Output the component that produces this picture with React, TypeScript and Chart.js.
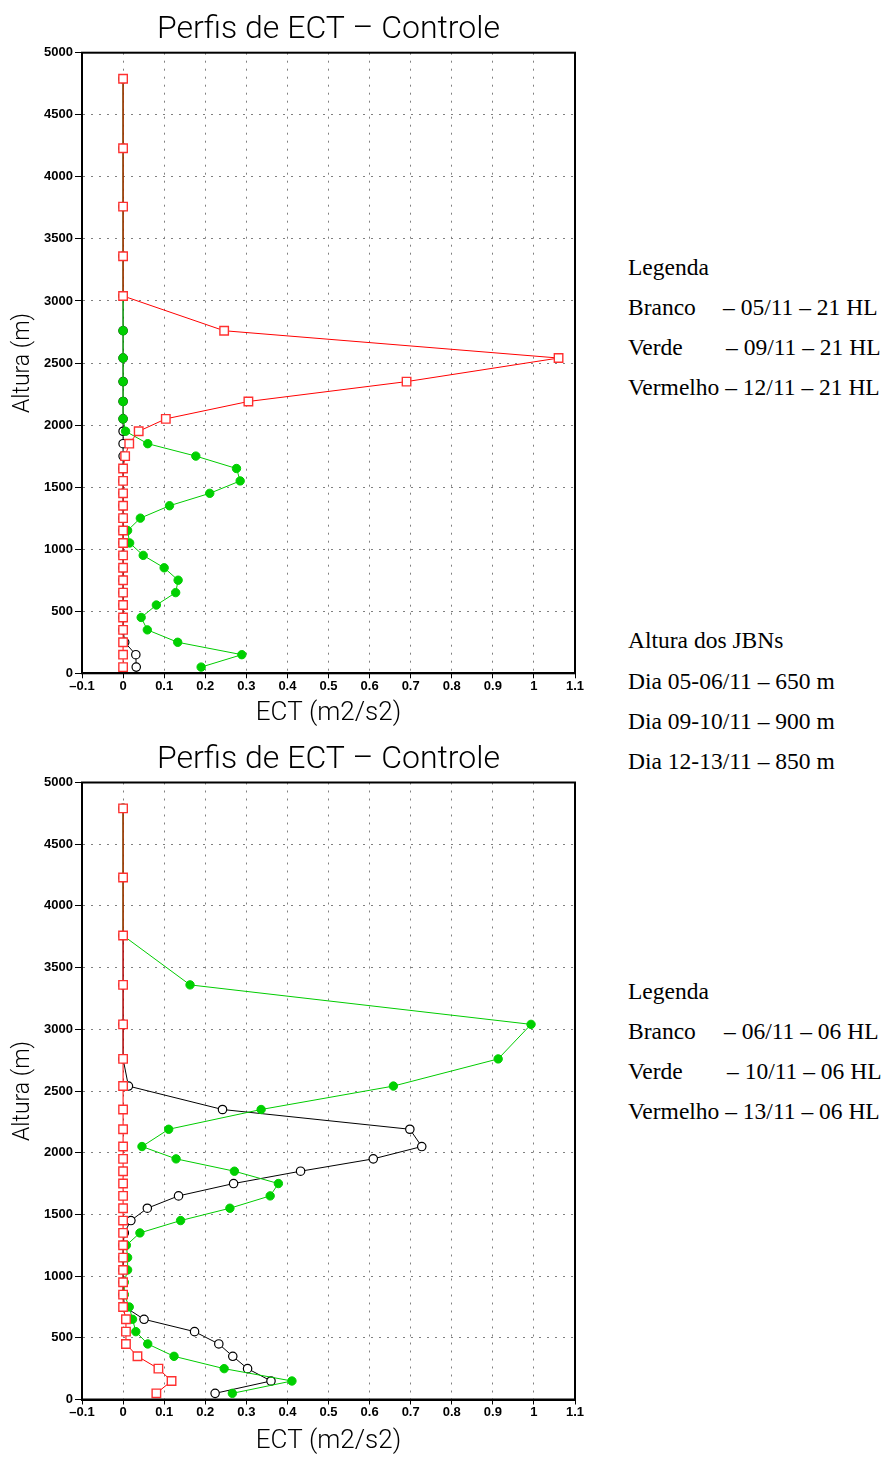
import React, { useEffect, useRef } from 'react';
import { Chart, registerables } from 'chart.js';

Chart.register(...registerables);

// Model levels (m)
const levels = [50, 150, 250, 350, 450, 550, 650, 750, 850, 950, 1050, 1150, 1250, 1350, 1450, 1550, 1650, 1750, 1850, 1950, 2050, 2190, 2350, 2540, 2760, 3040, 3360, 3760, 4230, 4790];

const xTickValues = [-0.1, 0, 0.1, 0.2, 0.3, 0.4, 0.5, 0.6, 0.7, 0.8, 0.9, 1.0, 1.1];
const xTickLabels = ['–0.1', '0', '0.1', '0.2', '0.3', '0.4', '0.5', '0.6', '0.7', '0.8', '0.9', '1', '1.1'];
const yTickValues = [0, 500, 1000, 1500, 2000, 2500, 3000, 3500, 4000, 4500, 5000];
const yTickLabels = ['0', '500', '1000', '1500', '2000', '2500', '3000', '3500', '4000', '4500', '5000'];

// Top chart (21 HL)
const branco21 = [0.032, 0.031, 0.004, 0, 0, 0, 0, 0, 0, 0, 0, 0, 0, 0, 0, 0, 0, 0, 0, 0, 0, 0, 0, 0, 0, 0, 0, 0, 0, 0];
const verde21 = [0.190, 0.289, 0.133, 0.059, 0.044, 0.081, 0.128, 0.134, 0.100, 0.049, 0.016, 0.011, 0.042, 0.113, 0.211, 0.285, 0.276, 0.177, 0.060, 0.006, 0, 0, 0, 0, 0, 0, 0, 0, 0, 0];
const vermelho21 = [0, 0, 0, 0, 0, 0, 0, 0, 0, 0, 0, 0, 0, 0, 0, 0, 0, 0.005, 0.015, 0.038, 0.104, 0.305, 0.690, 1.060, 0.246, 0, 0, 0, 0, 0];

// Bottom chart (06 HL)
const branco06 = [0.224, 0.360, 0.303, 0.267, 0.233, 0.174, 0.051, 0.004, 0, 0, 0, 0, 0, 0.003, 0.019, 0.059, 0.135, 0.269, 0.432, 0.609, 0.727, 0.698, 0.242, 0.013, 0, 0, 0, 0, 0, 0];
const verde06 = [0.266, 0.411, 0.246, 0.124, 0.060, 0.031, 0.023, 0.015, 0.003, 0.003, 0.011, 0.011, 0.008, 0.041, 0.140, 0.260, 0.358, 0.378, 0.271, 0.129, 0.046, 0.111, 0.336, 0.658, 0.913, 0.993, 0.163, 0, 0, 0];
const vermelho06 = [0.081, 0.118, 0.086, 0.035, 0.007, 0.007, 0.007, 0, 0, 0, 0, 0, 0, 0, 0, 0, 0, 0, 0, 0, 0, 0, 0, 0, 0, 0, 0, 0, 0, 0];

const chartTitle = 'Perfis de ECT – Controle';
const xAxisTitle = 'ECT (m2/s2)';
const yAxisTitle = 'Altura (m)';

// Side texts: [text, left, baseline]
const sideTexts: [string, number, number][] = [
  ['Legenda', 628, 276],
  ['Branco', 628, 316],
  ['– 05/11 – 21 HL', 723, 316],
  ['Verde', 628, 356],
  ['– 09/11 – 21 HL', 726, 356],
  ['Vermelho – 12/11 – 21 HL', 628, 396],
  ['Altura dos JBNs', 628, 649],
  ['Dia 05-06/11 – 650 m', 628, 690],
  ['Dia 09-10/11 – 900 m', 628, 730],
  ['Dia 12-13/11 – 850 m', 628, 770],
  ['Legenda', 628, 1000],
  ['Branco', 628, 1040],
  ['– 06/11 – 06 HL', 724, 1040],
  ['Verde', 628, 1080],
  ['– 10/11 – 06 HL', 727, 1080],
  ['Vermelho – 13/11 – 06 HL', 628, 1120],
];

const gradsFont = "Roboto, 'DejaVu Sans', sans-serif";

const framePlugin = {
  id: 'frame',
  afterDraw(chart: any) {
    const { ctx, chartArea } = chart;
    ctx.save();
    ctx.strokeStyle = '#000';
    ctx.lineWidth = 2;
    ctx.strokeRect(chartArea.left, chartArea.top, chartArea.right - chartArea.left, chartArea.bottom - chartArea.top);
    ctx.restore();
  },
};

function makeConfig(black: number[], green: number[], red: number[], xAxisHeight: number, titleBottomPad: number, xTitlePadBottom: number): any {
  const toPts = (vals: number[]) => levels.map((h, i) => ({ x: vals[i], y: h }));
  return {
    type: 'scatter',
    data: {
      // Chart.js draws the first dataset on top
      datasets: [
        {
          label: 'Vermelho',
          data: toPts(red),
          showLine: true,
          borderColor: '#ff0000',
          borderWidth: 1,
          pointStyle: 'rect',
          pointRadius: 6,
          pointBackgroundColor: '#ffffff',
          pointBorderColor: '#ff3030',
          pointBorderWidth: 1.4,
        },
        {
          label: 'Verde',
          data: toPts(green),
          showLine: true,
          borderColor: '#00cc00',
          borderWidth: 1,
          pointStyle: 'circle',
          pointRadius: 4.2,
          pointBackgroundColor: '#00d000',
          pointBorderColor: '#00d000',
          pointBorderWidth: 1,
        },
        {
          label: 'Branco',
          data: toPts(black),
          showLine: true,
          borderColor: '#000000',
          borderWidth: 1,
          pointStyle: 'circle',
          pointRadius: 4.2,
          pointBackgroundColor: '#ffffff',
          pointBorderColor: '#000000',
          pointBorderWidth: 1.2,
        },
      ],
    },
    options: {
      responsive: false,
      animation: false,
      devicePixelRatio: 1,
      layout: { padding: { left: 0, right: 25, top: 0, bottom: 0 } },
      plugins: {
        legend: { display: false },
        tooltip: { enabled: false },
        title: {
          display: true,
          fullSize: false,
          text: chartTitle,
          color: '#000',
          font: { family: gradsFont, size: 32, weight: '300', lineHeight: 1.1 },
          padding: { top: 12, bottom: titleBottomPad },
        },
      },
      scales: {
        x: {
          type: 'linear',
          min: -0.1,
          max: 1.1,
          afterBuildTicks: (scale: any) => {
            scale.ticks = xTickValues.map((v) => ({ value: v }));
          },
          afterFit: (scale: any) => {
            scale.height = xAxisHeight;
          },
          ticks: {
            autoSkip: false,
            maxRotation: 0,
            color: '#000',
            padding: 0,
            font: { family: "'Liberation Sans', Arial, sans-serif", size: 13, weight: 'bold' },
            callback: (_v: any, i: number) => xTickLabels[i],
          },
          grid: {
            color: '#808080',
            lineWidth: 1,
            tickLength: 5,
            tickColor: '#000',
            tickWidth: 1,
          },
          border: { display: true, color: '#000', width: 2, dash: [2, 6] },
          title: {
            display: true,
            text: xAxisTitle,
            color: '#000',
            font: { family: gradsFont, size: 26, weight: '300', lineHeight: 1.2 },
            padding: { top: 0, bottom: xTitlePadBottom },
          },
        },
        y: {
          type: 'linear',
          min: 0,
          max: 5000,
          afterBuildTicks: (scale: any) => {
            scale.ticks = yTickValues.map((v) => ({ value: v }));
          },
          afterFit: (scale: any) => {
            scale.width = 82;
          },
          ticks: {
            autoSkip: false,
            color: '#000',
            padding: 2,
            font: { family: "'Liberation Sans', Arial, sans-serif", size: 13, weight: 'bold' },
            callback: (_v: any, i: number) => yTickLabels[i],
          },
          grid: {
            color: '#808080',
            lineWidth: 1,
            tickLength: 7,
            tickColor: '#000',
            tickWidth: 1,
          },
          border: { display: true, color: '#000', width: 2, dash: [2, 6] },
          title: {
            display: true,
            text: yAxisTitle,
            color: '#000',
            font: { family: gradsFont, size: 23, weight: '300', lineHeight: 1.2 },
            padding: { top: 9, bottom: 0 },
          },
        },
      },
    },
    plugins: [framePlugin],
  };
}

function ChartCanvas(props: { top: number; height: number; config: any }) {
  const ref = useRef<HTMLCanvasElement | null>(null);
  useEffect(() => {
    if (!ref.current) return;
    const chart = new Chart(ref.current, props.config);
    return () => chart.destroy();
  }, []);
  return (
    <canvas
      ref={ref}
      width={600}
      height={props.height}
      style={{ position: 'absolute', left: 0, top: props.top, width: 600, height: props.height }}
    />
  );
}

export default function App() {
  const topConfig = makeConfig(branco21, verde21, vermelho21, 56.7, 5.5, 1);
  const bottomConfig = makeConfig(branco06, verde06, vermelho06, 59.5, 5.3, 2);
  return (
    <div style={{ position: 'absolute', left: 0, top: 0, width: 885, height: 1459, background: '#fff', overflow: 'hidden' }}>
      <ChartCanvas top={0} height={730} config={topConfig} />
      <ChartCanvas top={730} height={729} config={bottomConfig} />
      {sideTexts.map(([t, x, b], i) => (
        <div
          key={i}
          style={{
            position: 'absolute',
            left: x,
            top: b - 19.6,
            fontFamily: "'Liberation Serif', 'Times New Roman', serif",
            fontSize: 23.5,
            lineHeight: '23.5px',
            whiteSpace: 'nowrap',
            color: '#000',
          }}
        >
          {t}
        </div>
      ))}
    </div>
  );
}
